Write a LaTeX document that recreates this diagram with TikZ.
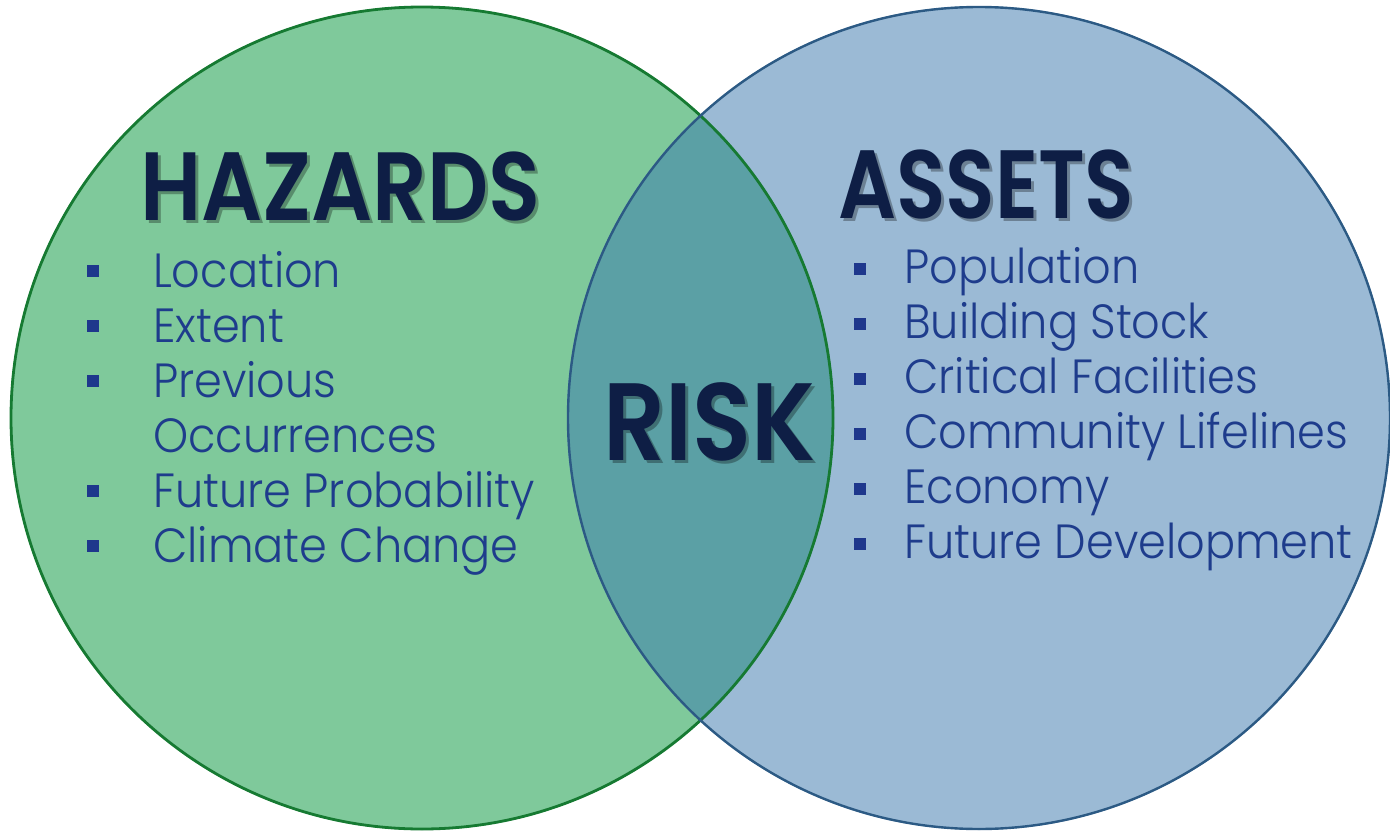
\documentclass[tikz,border=0pt]{standalone}
\usepackage{fontspec}
\setmainfont{Poppins}
\IfFontExistsTF{Poppins SemiBold}
  {\newfontfamily\headfont[FakeStretch=0.88]{Poppins SemiBold}\newcommand\headweight{}}
  {\newfontfamily\headfont[FakeStretch=0.86]{Poppins}\newcommand\headweight{\bfseries}}
\IfFontExistsTF{Poppins Light}
  {\newfontfamily\bodyfont[FakeStretch=0.93]{Poppins Light}}
  {\newfontfamily\bodyfont[FakeStretch=0.92]{Poppins}}
\definecolor{leftfill}{RGB}{127,201,155}
\definecolor{rightfill}{RGB}{155,186,213}
\definecolor{midfill}{RGB}{91,160,165}
\definecolor{leftline}{RGB}{22,122,50}
\definecolor{rightline}{RGB}{44,90,132}
\definecolor{headcol}{RGB}{14,30,69}
\definecolor{bodycol}{RGB}{30,60,140}
\definecolor{bulletcol}{RGB}{30,55,140}
\tikzset{
  headtext/.style={font=\headfont\headweight\fontsize{97}{97}\selectfont, text=headcol, inner sep=0pt, anchor=base west},
  risktext/.style={font=\headfont\headweight\fontsize{110}{110}\selectfont, text=headcol, inner sep=0pt, anchor=base west},
  shadowtext/.style={text=black, text opacity=0.3},
  item/.style={font=\bodyfont\fontsize{48}{48}\selectfont, text=bodycol, inner sep=0pt, anchor=base west},
  bulletbox/.style={fill=bulletcol, minimum size=12pt, inner sep=0pt, draw=none},
}
\begin{document}
\begin{tikzpicture}[x=1pt,y=-1pt]
\useasboundingbox (0,0) rectangle (1390,835);
% circles
\fill[leftfill] (422,418) circle[radius=412];
\fill[rightfill] (979,418) circle[radius=412];
\begin{scope}
  \clip (422,418) circle[radius=412];
  \fill[midfill] (979,418) circle[radius=412];
\end{scope}
\draw[leftline, line width=2.8pt] (422,418) circle[radius=411];
\draw[rightline, line width=2.4pt] (979,418) circle[radius=411];
% headings
\node[headtext, shadowtext] (hazsh) at (143,223) {HAZARDS};
\node[headtext] (haz) at (140,220) {HAZARDS};
\node[headtext, shadowtext] (asssh) at (841,221) {\scalebox{0.95}[1]{ASSETS}};
\node[headtext] (ass) at (838,218) {\scalebox{0.95}[1]{ASSETS}};
\node[risktext, shadowtext] (risksh) at (606,463) {RISK};
\node[risktext] (risk) at (603,460) {RISK};
% left list
\foreach \n/\y/\t in {l1/287/Location, l2/342/Extent, l3/397/Previous, l5/507/Future Probability, l6/562/Climate Change}{
  \node[bulletbox] (b\n) at (93,\y-16) {};
  \node[item] (\n) at (153,\y) {\t};
}
\node[item] (l4) at (153,452) {Occurrences};
% right list
\foreach \n/\y/\t in {r1/283/Population, r2/338/Building Stock, r3/393/Critical Facilities, r4/448/Community Lifelines, r5/503/Economy, r6/558/Future Development}{
  \node[bulletbox] (b\n) at (860,\y-14) {};
  \node[item] (\n) at (904,\y) {\t};
}
\end{tikzpicture}
\end{document}
